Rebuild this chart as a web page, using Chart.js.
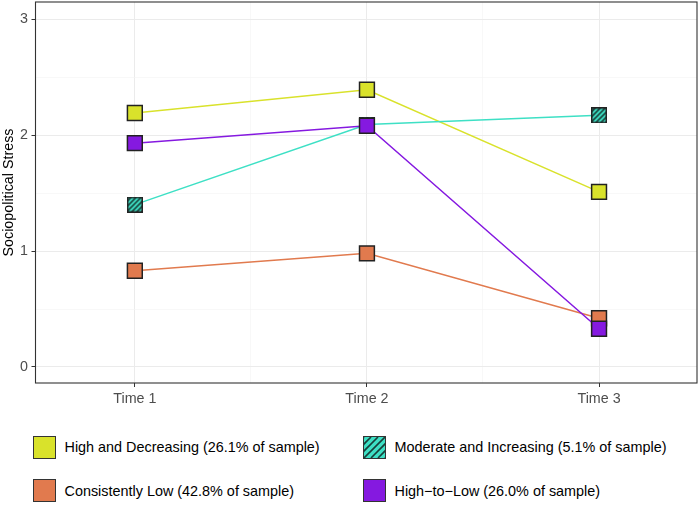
<!DOCTYPE html>
<html>
<head>
<meta charset="utf-8">
<script src="https://cdn.jsdelivr.net/npm/chart.js@4.4.1/dist/chart.umd.min.js"></script>
<style>
    body { margin: 0; background: #fff; font-family: "Liberation Sans", Arial, sans-serif; }
    #wrap { position: relative; width: 700px; height: 505px; }
    #chartBox { position: absolute; left: 0; top: 0; width: 700px; height: 420px; }
    .leg-item { position: absolute; height: 24px; display: flex; align-items: center; font-size: 14.4px; color: #000; white-space: nowrap; }
    .leg-box { width: 21px; height: 21px; border: 1.5px solid #333; margin-right: 9px; box-sizing: content-box; }
    .leg-box canvas { display: block; }
</style>
</head>
<body>
<div id="wrap">
    <div id="chartBox"><canvas id="trajChart"></canvas></div>
    <div id="legend"></div>
</div>
<script>
// Data
const timeLabels = ["Time 1", "Time 2", "Time 3"];
const timePoints = [1, 2, 3];
const xGridValues = [1, 1.5, 2, 2.5, 3];
const yGridValues = [0, 0.5, 1, 1.5, 2, 2.5, 3];

const groupNames = [
    "High and Decreasing (26.1% of sample)",
    "Moderate and Increasing (5.1% of sample)",
    "Consistently Low (42.8% of sample)",
    "High\u2212to\u2212Low (26.0% of sample)"
];
const highDecreasing = [2.19, 2.39, 1.51];
const moderateIncreasing = [1.40, 2.09, 2.17];
const consistentlyLow = [0.83, 0.98, 0.42];
const highToLow = [1.93, 2.08, 0.33];

const groupColors = ["#D9E22B", "#3EE0C5", "#E17A4E", "#8519E0"];
const hatchInk = "#17403A";

// turquoise with diagonal stripes, used for the marker and the legend key
function makeHatch(size, gap, border) {
    const c = document.createElement("canvas");
    c.width = size;
    c.height = size;
    const g = c.getContext("2d");
    g.fillStyle = groupColors[1];
    g.fillRect(0, 0, size, size);
    g.strokeStyle = hatchInk;
    g.lineWidth = 1.6;
    for (let k = -size; k < 2 * size; k += gap) {
        g.beginPath();
        g.moveTo(k, size);
        g.lineTo(k + size, 0);
        g.stroke();
    }
    if (border) {
        g.strokeStyle = "#222";
        g.lineWidth = 1.5;
        g.strokeRect(0.75, 0.75, size - 1.5, size - 1.5);
    }
    return c;
}

const hatchMarker = makeHatch(16, 5, true);

function toPoints(values) {
    return values.map((v, i) => ({ x: timePoints[i], y: v }));
}

function series(idx, values, drawOrder) {
    return {
        label: groupNames[idx],
        data: toPoints(values),
        borderColor: groupColors[idx],
        borderWidth: 1.5,
        backgroundColor: groupColors[idx],
        pointStyle: "rect",
        pointRadius: 10.5,
        pointBorderColor: "#222",
        pointBorderWidth: 1.5,
        pointBackgroundColor: groupColors[idx],
        order: drawOrder
    };
}

const datasets = [
    series(0, highDecreasing, 3),
    Object.assign(series(1, moderateIncreasing, 2), { pointStyle: hatchMarker }),
    series(2, consistentlyLow, 1),
    series(3, highToLow, 0)
];

const panelBorder = {
    id: "panelBorder",
    beforeDatasetsDraw(chart) {
        const { ctx, chartArea: a } = chart;
        ctx.save();
        ctx.strokeStyle = "#333";
        ctx.lineWidth = 1.1;
        ctx.strokeRect(a.left, a.top, a.right - a.left, a.bottom - a.top);
        ctx.restore();
    }
};

const isMajor = v => Math.abs(v - Math.round(v)) < 1e-6;
const axisFont = { family: "Liberation Sans", size: 14.3 };

const ctx = document.getElementById("trajChart").getContext("2d");
new Chart(ctx, {
    type: "line",
    data: { datasets: datasets },
    plugins: [panelBorder],
    options: {
        responsive: true,
        maintainAspectRatio: false,
        animation: false,
        events: [],
        layout: { autoPadding: false, padding: { top: 2, right: 3, left: 0, bottom: 0 } },
        plugins: {
            legend: { display: false },
            tooltip: { enabled: false }
        },
        scales: {
            x: {
                type: "linear",
                min: 0.572,
                max: 3.422,
                afterBuildTicks: s => { s.ticks = xGridValues.map(v => ({ value: v })); },
                afterFit: s => {
                    s.height = 37;
                    s.paddingLeft = 0;
                    s.paddingRight = 0;
                },
                border: { display: false },
                grid: {
                    color: c => isMajor(c.tick.value) ? "#EBEBEB" : "#F3F3F3",
                    lineWidth: c => isMajor(c.tick.value) ? 1 : 0.6,
                    tickColor: c => isMajor(c.tick.value) ? "#333" : "rgba(0,0,0,0)",
                    tickLength: 4
                },
                ticks: {
                    autoSkip: false,
                    maxRotation: 0,
                    padding: 3,
                    color: "#4D4D4D",
                    font: axisFont,
                    callback: v => isMajor(v) ? timeLabels[Math.round(v) - 1] : ""
                }
            },
            y: {
                min: -0.138,
                max: 3.147,
                afterBuildTicks: s => { s.ticks = yGridValues.map(v => ({ value: v })); },
                afterFit: s => {
                    s.width = 35.5;
                    s.paddingTop = 0;
                    s.paddingBottom = 0;
                },
                border: { display: false },
                grid: {
                    color: c => isMajor(c.tick.value) ? "#EBEBEB" : "#F3F3F3",
                    lineWidth: c => isMajor(c.tick.value) ? 1 : 0.6,
                    tickColor: c => isMajor(c.tick.value) ? "#333" : "rgba(0,0,0,0)",
                    tickLength: 4
                },
                ticks: {
                    padding: 3.5,
                    color: "#4D4D4D",
                    font: axisFont,
                    callback: v => isMajor(v) ? String(Math.round(v)) : ""
                },
                title: {
                    display: true,
                    text: "Sociopolitical Stress",
                    color: "#000",
                    padding: { top: 0, bottom: 0 },
                    font: axisFont
                }
            }
        }
    }
});

// Legend: two rows, two columns, as in the figure
const legendSpots = [
    { left: 32.5, top: 435 },
    { left: 362.5, top: 435 },
    { left: 32.5, top: 478.5 },
    { left: 362.5, top: 478.5 }
];
const legend = document.getElementById("legend");
groupNames.forEach((name, i) => {
    const item = document.createElement("div");
    item.className = "leg-item";
    item.style.left = legendSpots[i].left + "px";
    item.style.top = legendSpots[i].top + "px";
    const box = document.createElement("div");
    box.className = "leg-box";
    if (i === 1) {
        box.appendChild(makeHatch(21, 7, false));
    } else {
        box.style.background = groupColors[i];
    }
    const txt = document.createElement("span");
    txt.textContent = name;
    item.appendChild(box);
    item.appendChild(txt);
    legend.appendChild(item);
});
</script>
</body>
</html>
